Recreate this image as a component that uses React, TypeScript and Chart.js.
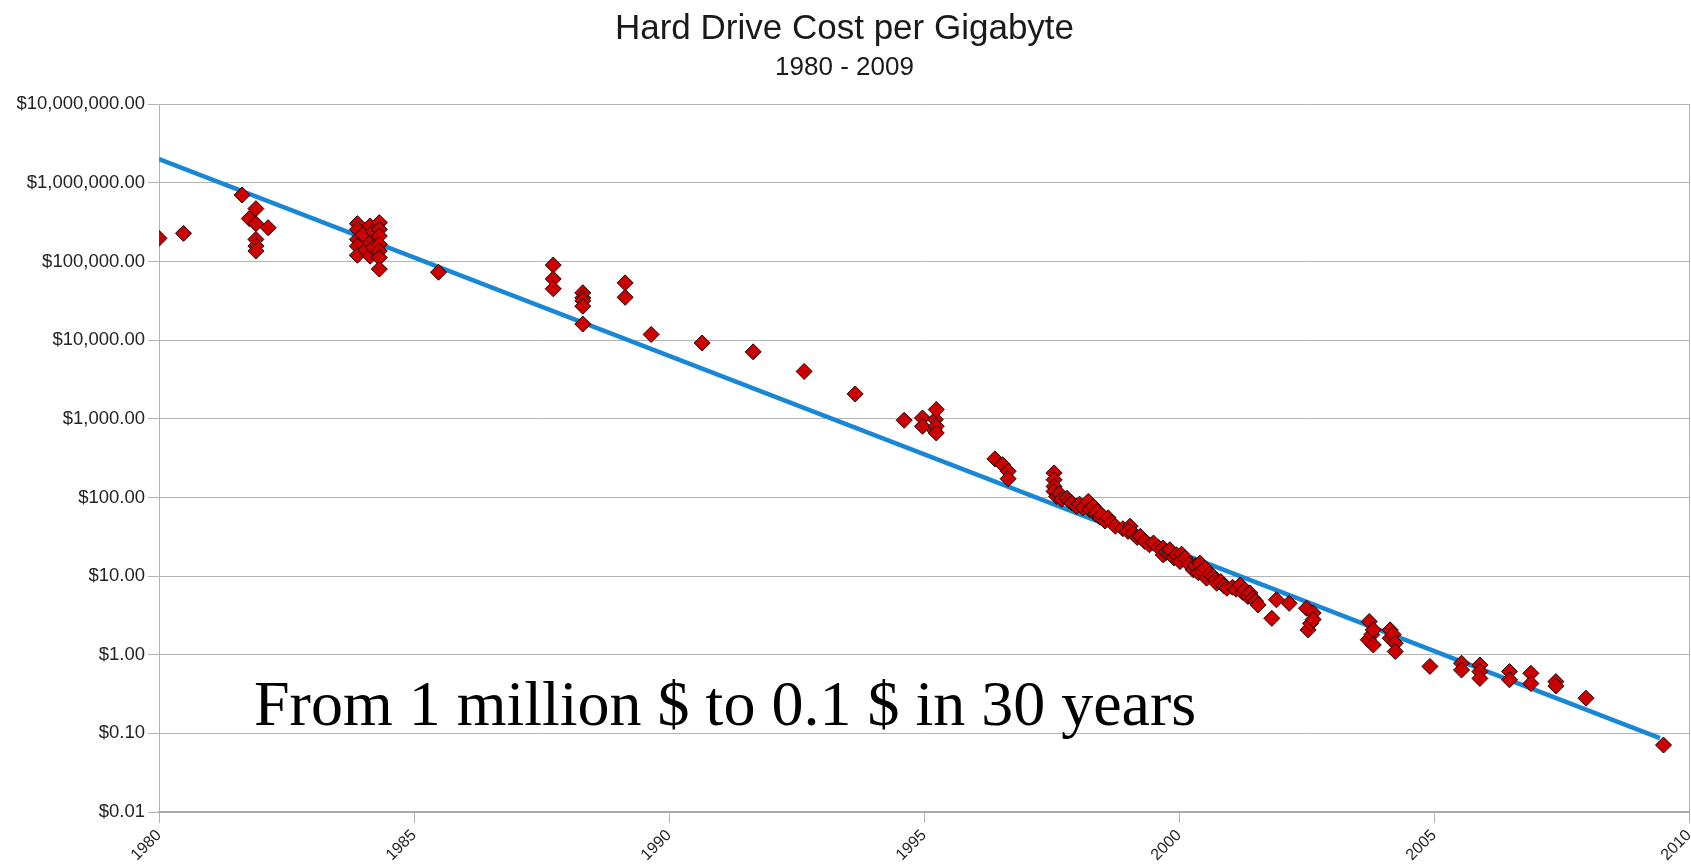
import React, { useEffect, useRef } from "react";
import { Chart, registerables } from "chart.js";

Chart.register(...registerables);

const TITLE = "Hard Drive Cost per Gigabyte";
const SUBTITLE = "1980 - 2009";
const NOTE = "From 1 million $ to 0.1 $ in 30 years";

const X_TICKS = [1980, 1985, 1990, 1995, 2000, 2005, 2010];
const Y_TICKS = [0.01, 0.1, 1, 10, 100, 1000, 10000, 100000, 1000000, 10000000];
const Y_TICK_LABELS = [
  "$0.01", "$0.10", "$1.00", "$10.00", "$100.00", "$1,000.00",
  "$10,000.00", "$100,000.00", "$1,000,000.00", "$10,000,000.00",
];

const DRIVE_YEARS = [
  1980.0, 1980.48, 1981.63, 1981.77, 1981.9, 1981.9, 1981.9, 1981.9, 1981.9, 1982.14,
  1983.89, 1983.89, 1983.89, 1983.89, 1983.89, 1984.0, 1984.05, 1984.14, 1984.14, 1984.14,
  1984.2, 1984.2, 1984.32, 1984.32, 1984.32, 1984.32, 1984.32, 1984.32, 1984.32, 1985.48,
  1987.73, 1987.73, 1987.73, 1988.31, 1988.31, 1988.31, 1988.31, 1988.31, 1989.14, 1989.14,
  1989.65, 1990.65, 1991.65, 1992.65, 1993.65, 1994.61, 1994.97, 1994.97, 1995.2, 1995.22,
  1995.24, 1995.24, 1995.24, 1996.39, 1996.54, 1996.65, 1996.65, 1997.55, 1997.55, 1997.55,
  1997.55, 1997.6, 1997.65, 1997.7, 1997.8, 1997.85, 1997.9, 1997.99, 1998.05, 1998.12,
  1998.22, 1998.25, 1998.32, 1998.36, 1998.39, 1998.45, 1998.48, 1998.55, 1998.61, 1998.68,
  1998.75, 1998.9, 1999.04, 1999.0, 1999.1, 1999.18, 1999.24, 1999.33, 1999.42, 1999.5,
  1999.6, 1999.69, 1999.69, 1999.75, 1999.82, 1999.82, 1999.9, 1999.95, 2000.02, 2000.05,
  2000.12, 2000.2, 2000.28, 2000.32, 2000.38, 2000.41, 2000.46, 2000.51, 2000.54, 2000.6,
  2000.67, 2000.72, 2000.74, 2000.82, 2000.88, 2000.94, 2001.05, 2001.12, 2001.2, 2001.25,
  2001.29, 2001.35, 2001.39, 2001.45, 2001.5, 2001.55, 2001.82, 2001.91, 2002.16, 2002.5,
  2002.53, 2002.58, 2002.63, 2002.63, 2003.71, 2003.73, 2003.78, 2003.81, 2003.81, 2004.14,
  2004.14, 2004.2, 2004.24, 2004.24, 2004.92, 2005.54, 2005.54, 2005.9, 2005.9, 2005.9,
  2006.48, 2006.48, 2006.9, 2006.9, 2007.39, 2007.39, 2007.98, 2009.5,
];

const DRIVE_COSTS = [
  197000, 228000, 700000, 351000, 470000, 303000, 191000, 157000, 136000, 269000,
  303000, 256000, 191000, 157000, 120000, 220000, 140000, 283000, 174000, 117000,
  240000, 150000, 312000, 256000, 211000, 165000, 136000, 112000, 80000, 73000,
  90000, 60000, 45000, 40000, 34500, 31600, 27000, 16000, 53500, 35000,
  11800, 9200, 7100, 4000, 2070, 957, 1025, 803, 720, 980,
  1310, 803, 660, 309, 261, 215, 173, 205, 168, 138,
  119, 103, 112, 95, 98, 90, 85, 77, 82, 74,
  89, 70, 77, 62, 66, 56, 60, 50, 55, 48,
  43, 40, 43, 37, 35, 31, 32, 27.5, 25, 26.3,
  23, 22.7, 18.6, 20, 19.6, 21.6, 17, 18.6, 15.3, 19,
  17, 14, 12, 13.5, 11, 14.6, 11.5, 12.6, 9.4, 10.5,
  9.9, 9, 8.1, 8.5, 7.5, 7.0, 7.2, 6.8, 7.7, 6.2,
  6.7, 5.5, 6.1, 5.2, 4.8, 4.3, 2.9, 5.0, 4.5, 3.9,
  2.07, 2.5, 3.4, 2.8, 1.55, 2.64, 1.8, 2.07, 1.33, 2.07,
  1.62, 1.8, 1.4, 1.1, 0.71, 0.78, 0.64, 0.74, 0.61, 0.5,
  0.61, 0.48, 0.58, 0.43, 0.455, 0.4, 0.28, 0.071,
];

const TREND_YEARS = [1980, 2009.43];
const TREND_COSTS = [2000000, 0.087];

const SANS = '"Liberation Sans", Arial, sans-serif';
const SERIF = '"Liberation Serif", "Times New Roman", serif';

const notePlugin = {
  id: "noteText",
  afterDatasetsDraw(chart: any) {
    const { ctx, chartArea } = chart;
    ctx.save();
    ctx.font = `64px ${SERIF}`;
    ctx.fillStyle = "#000000";
    ctx.textAlign = "left";
    ctx.textBaseline = "alphabetic";
    ctx.fillText(NOTE, chartArea.left + 95, chartArea.bottom - 87);
    ctx.restore();
  },
};

export default function App() {
  const canvasRef = useRef<HTMLCanvasElement | null>(null);

  useEffect(() => {
    document.body.style.margin = "0";
    const canvas = canvasRef.current;
    if (!canvas) return;
    const lastX = X_TICKS.length - 1;
    const chart = new Chart(canvas, {
      type: "scatter",
      data: {
        datasets: [
          {
            label: "Cost per GB",
            data: DRIVE_YEARS.map((x, i) => ({ x, y: DRIVE_COSTS[i] })),
            pointStyle: "rectRot",
            pointRadius: 8,
            backgroundColor: "#cc0000",
            borderColor: "#1a0000",
            borderWidth: 1,
            order: 0,
          },
          {
            label: "Trend",
            type: "line",
            data: TREND_YEARS.map((x, i) => ({ x, y: TREND_COSTS[i] })),
            borderColor: "#1787d6",
            borderWidth: 4.5,
            pointRadius: 0,
            showLine: true,
            fill: false,
            tension: 0,
            order: 1,
          },
        ] as any,
      },
      options: {
        animation: false,
        responsive: true,
        maintainAspectRatio: false,
        layout: { autoPadding: false, padding: { left: 0, right: 2, top: 0, bottom: 0 } },
        plugins: {
          legend: { display: false },
          tooltip: { enabled: false },
          title: {
            display: true,
            text: TITLE,
            color: "#1a1a1a",
            font: { family: SANS, size: 35, weight: "normal" },
            padding: { top: 8, bottom: 1 },
          },
          subtitle: {
            display: true,
            text: SUBTITLE,
            color: "#1a1a1a",
            font: { family: SANS, size: 26, weight: "normal" },
            padding: { top: 1, bottom: 21 },
          },
        },
        scales: {
          x: {
            type: "linear",
            min: 1980,
            max: 2010,
            afterBuildTicks: (s: any) => {
              s.ticks = X_TICKS.map((v) => ({ value: v }));
            },
            afterFit: (s: any) => {
              s.height = 56;
              s.paddingRight = 0;
              s.paddingLeft = 0;
            },
            ticks: {
              autoSkip: false,
              minRotation: 45,
              maxRotation: 45,
              color: "#222222",
              font: { family: SANS, size: 16 },
              padding: 3,
              callback: (v: any) => String(v),
            },
            grid: {
              drawOnChartArea: true,
              color: (c: any) =>
                c.index === 0 || c.index === lastX ? "#b3b3b3" : "rgba(0,0,0,0)",
              tickColor: "#b3b3b3",
              tickLength: 11,
              lineWidth: 1,
            },
            border: { display: true, color: "#a8a8a8", width: 2 },
          },
          y: {
            type: "logarithmic",
            min: 0.01,
            max: 10000000,
            afterBuildTicks: (s: any) => {
              s.ticks = Y_TICKS.map((v) => ({ value: v }));
            },
            afterFit: (s: any) => {
              s.width = 159;
            },
            ticks: {
              autoSkip: false,
              color: "#222222",
              font: { family: SANS, size: 18.5 },
              padding: 3,
              callback: (_v: any, i: number) => Y_TICK_LABELS[i],
            },
            grid: {
              color: "#b3b3b3",
              tickColor: "#b3b3b3",
              tickLength: 11,
              lineWidth: 1,
            },
            border: { display: true, color: "#b3b3b3" },
          },
        },
      } as any,
      plugins: [notePlugin],
    });
    return () => chart.destroy();
  }, []);

  return (
    <div style={{ position: "fixed", left: 0, top: 0, width: 1691, height: 868 }}>
      <canvas ref={canvasRef} />
    </div>
  );
}
